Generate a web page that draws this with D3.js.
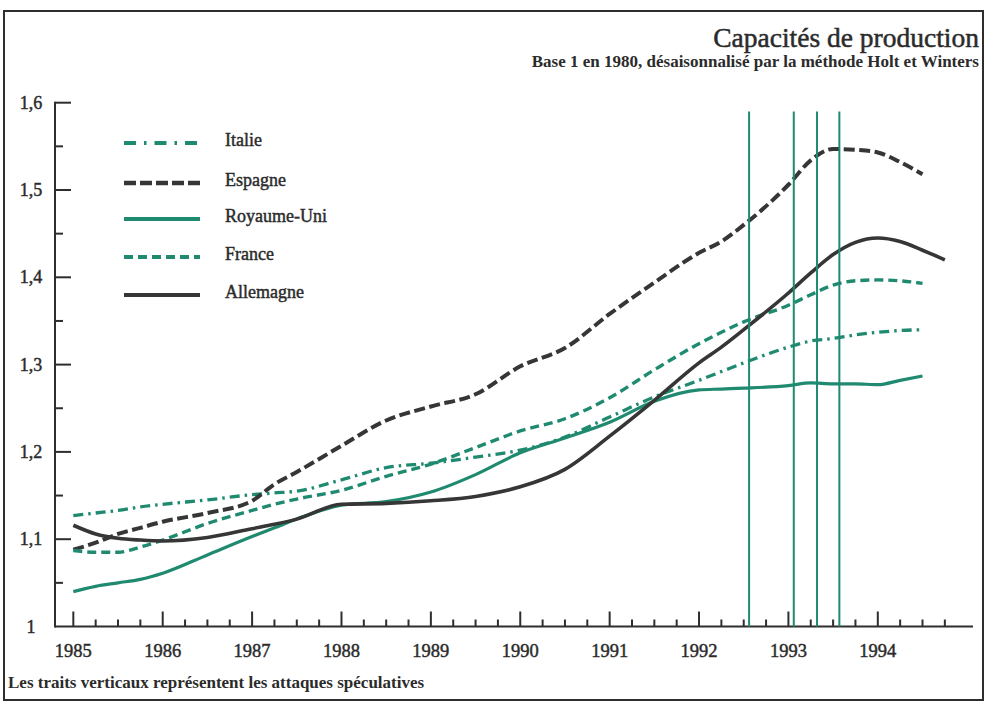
<!DOCTYPE html>
<html><head><meta charset="utf-8">
<script src="https://cdn.jsdelivr.net/npm/d3@7"></script>
<style>
html,body{margin:0;padding:0;background:#fff;}
svg{display:block;}
text{font-family:"Liberation Serif","Times New Roman",serif;fill:#2b2b2b;}
.heavy{stroke:#2b2b2b;stroke-width:0.45px;}
</style></head>
<body>
<svg id="c" width="992" height="702"></svg>
<script>
const dates = [1985,1985.25,1985.5,1985.75,1986,1986.5,1987,1987.25,1987.5,1988,1988.5,1989,1989.5,1990,1990.5,1991,1991.5,1992,1992.25,1992.5,1993,1993.25,1993.5,1993.75,1994,1994.25,1994.5,1994.75];
const italie    = [1.127,1.130,1.133,1.137,1.140,1.145,1.151,1.153,1.155,1.168,1.182,1.187,1.194,1.202,1.217,1.240,1.263,1.282,1.292,1.302,1.320,1.327,1.330,1.334,1.337,1.339,1.340,null];
const espagne   = [1.088,1.096,1.106,1.113,1.120,1.130,1.144,1.163,1.177,1.207,1.236,1.252,1.266,1.298,1.319,1.358,1.394,1.428,1.441,1.460,1.506,1.534,1.547,1.546,1.543,1.532,1.518,null];
const royaumeUni= [1.040,1.046,1.050,1.054,1.061,1.082,1.103,1.113,1.123,1.139,1.143,1.154,1.174,1.199,1.216,1.234,1.258,1.271,1.272,1.273,1.276,1.279,1.278,1.278,1.277,1.282,1.287,null];
const france    = [1.087,1.085,1.085,1.091,1.099,1.118,1.133,1.140,1.146,1.156,1.172,1.186,1.205,1.224,1.238,1.262,1.294,1.324,1.337,1.349,1.368,1.380,1.391,1.396,1.397,1.396,1.393,null];
const allemagne = [1.116,1.106,1.101,1.099,1.098,1.102,1.112,1.117,1.123,1.140,1.141,1.144,1.149,1.160,1.180,1.218,1.259,1.302,1.320,1.340,1.382,1.405,1.426,1.440,1.445,1.441,1.431,1.420];
const attacks = [1992.56,1993.06,1993.32,1993.57];
const years = [1985,1986,1987,1988,1989,1990,1991,1992,1993,1994];
const yTickValues = [1,1.1,1.2,1.3,1.4,1.5,1.6];
const yTickLabels = ["1","1,1","1,2","1,3","1,4","1,5","1,6"];
const seriesNames = ["Italie","Espagne","Royaume-Uni","France","Allemagne"];

const TEAL = "#1f8a70", DARK = "#363636";
const styles = {
  "Italie":      {color:TEAL, dash:"10,5,2.5,5", width:3.3},
  "Espagne":     {color:DARK, dash:"11,4.5", width:4},
  "Royaume-Uni": {color:TEAL, dash:null, width:3.2},
  "France":      {color:TEAL, dash:"9,5", width:3.4},
  "Allemagne":   {color:DARK, dash:null, width:3.6}
};
const seriesData = {"Italie":italie,"Espagne":espagne,"Royaume-Uni":royaumeUni,"France":france,"Allemagne":allemagne};

const svg = d3.select("#c");
const x = d3.scaleLinear().domain([1984.795,1995.065]).range([55,973]);
const y = d3.scaleLinear().domain([1,1.6]).range([626.5,102.7]);

// frame
svg.append("rect").attr("x",4).attr("y",11).attr("width",979).attr("height",689)
  .attr("fill","none").attr("stroke","#2e2e2e").attr("stroke-width",2);

// title
svg.append("text").attr("class","heavy").attr("x",979).attr("y",47).attr("text-anchor","end")
  .style("font-size","27.5px").style("stroke-width","0.5px").text("Capacités de production");
svg.append("text").attr("x",979).attr("y",67).attr("text-anchor","end")
  .style("font-size","17px").style("font-weight","bold")
  .text("Base 1 en 1980, désaisonnalisé par la méthode Holt et Winters");

// y axis
const yMinor = d3.range(1.05,1.6,0.1);
const ax = svg.append("g").attr("stroke","#2e2e2e").attr("stroke-width",2);
ax.append("line").attr("x1",55).attr("x2",55).attr("y1",y(1.6)-1).attr("y2",y(1)+1);
ax.selectAll(".ymaj").data(yTickValues.slice(1)).join("line")
  .attr("x1",55).attr("x2",71).attr("y1",d=>y(d)).attr("y2",d=>y(d));
ax.selectAll(".ymin").data(yMinor).join("line")
  .attr("x1",55).attr("x2",63).attr("y1",d=>y(d)).attr("y2",d=>y(d));
svg.selectAll(".ylab").data(yTickValues).join("text").attr("class","heavy")
  .attr("x",31).attr("y",d=>y(d)+6).attr("text-anchor","middle")
  .style("font-size","18px").text((d,i)=>yTickLabels[i]);

// x axis
ax.append("line").attr("x1",55).attr("x2",973).attr("y1",y(1)).attr("y2",y(1));
const quarters = d3.range(0,40).map(i=>1985+i*0.25).filter(d=>d%1!==0);
ax.selectAll(".xmaj").data(years).join("line")
  .attr("x1",d=>x(d)).attr("x2",d=>x(d)).attr("y1",y(1)).attr("y2",y(1)-15);
ax.selectAll(".xmin").data(quarters).join("line")
  .attr("x1",d=>x(d)).attr("x2",d=>x(d)).attr("y1",y(1)).attr("y2",y(1)-7);
svg.selectAll(".xlab").data(years).join("text").attr("class","heavy")
  .attr("x",d=>x(d)).attr("y",656.5).attr("text-anchor","middle")
  .style("font-size","18.5px").text(d=>d);

// series
const line = d3.line().defined(d=>d[1]!=null).x(d=>x(d[0])).y(d=>y(d[1])).curve(d3.curveMonotoneX);
seriesNames.forEach(n=>{
  const s = styles[n];
  const pts = dates.map((d,i)=>[d, seriesData[n][i]]);
  svg.append("path").datum(pts).attr("d",line).attr("fill","none")
    .attr("stroke",s.color).attr("stroke-width",s.width)
    .attr("stroke-dasharray",s.dash).attr("stroke-linecap","butt").attr("stroke-linejoin","round");
});

// attacks
svg.selectAll(".att").data(attacks).join("line")
  .attr("x1",d=>x(d)).attr("x2",d=>x(d)).attr("y1",y(1.59)).attr("y2",y(1))
  .attr("stroke",TEAL).attr("stroke-width",2);

// legend
const legY = [143,183,219,257,295];
seriesNames.forEach((n,i)=>{
  const s = styles[n];
  svg.append("line").attr("x1",124).attr("x2",200).attr("y1",legY[i]).attr("y2",legY[i])
    .attr("stroke",s.color).attr("stroke-width",s.width+0.6)
    .attr("stroke-dasharray", n==="Italie" ? "12,8,2.5,8" : (n==="Espagne" ? "12,4" : s.dash));
  svg.append("text").attr("class","heavy").attr("x",225).attr("y",legY[i]+3).style("font-size","18px").text(n);
});

// footer
svg.append("text").attr("x",8).attr("y",688).style("font-size","17px").style("font-weight","bold")
  .text("Les traits verticaux représentent les attaques spéculatives");
</script>
</body></html>
